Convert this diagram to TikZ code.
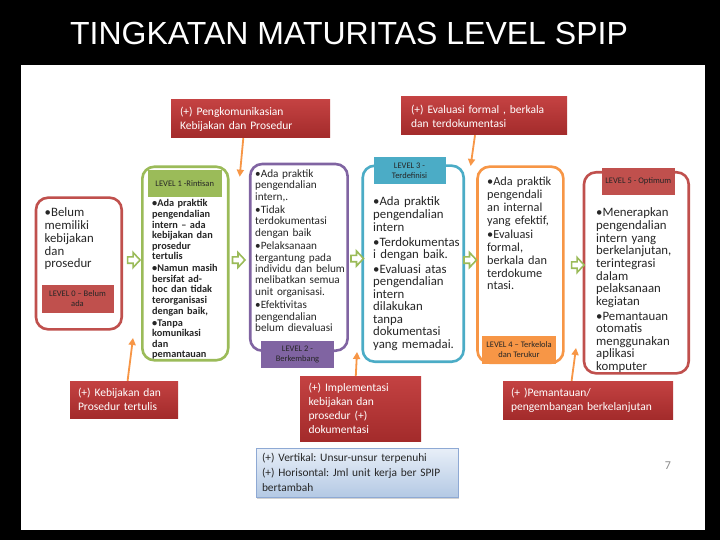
\documentclass[tikz,border=0pt]{standalone}
\usepackage{fontspec}
\setmainfont{Carlito}
\newfontfamily\arialf{Liberation Sans}
\usetikzlibrary{arrows.meta,shadows}
\definecolor{lvred}{HTML}{C0504D}
\definecolor{lvgreen}{HTML}{9BBB59}
\definecolor{lvpurple}{HTML}{8064A2}
\definecolor{lvteal}{HTML}{4BACC6}
\definecolor{lvorange}{HTML}{F79646}
\definecolor{calltop}{HTML}{C44242}
\definecolor{callbot}{HTML}{A32B2B}
\definecolor{txtdark}{HTML}{262626}
\definecolor{legtop}{HTML}{E8EFF8}
\definecolor{legbot}{HTML}{B4C9E4}
\definecolor{legline}{HTML}{8EA9D4}
\definecolor{pggray}{HTML}{8A8A8A}
\frenchspacing
\newcommand\bitem[1]{\setbox0\hbox{•}\hangindent=\wd0 \hangafter=1 \noindent\copy0 #1\par}
\newcommand\garr[2]{\draw[garrow] (#1,#2-3.2) -- (#1+5.5,#2-3.2) -- (#1+5.5,#2-7.5) -- (#1+12.5,#2) -- (#1+5.5,#2+7.5) -- (#1+5.5,#2+3.2) -- (#1,#2+3.2) -- cycle;}
\tikzset{
 lvframe/.style={draw=#1, line width=2.6pt, fill=white, rounded corners=12pt, inner sep=0pt},
 lvlabel/.style={fill=#1, inner sep=0pt, align=center, text=txtdark, font=\fontsize{8.5}{10}\selectfont\frenchspacing},
 coltext/.style={anchor=base west, text width=110pt, align=left, inner sep=0pt, text=txtdark, font=#1},
 callout/.style={top color=calltop, bottom color=callbot, text=white, align=left, inner ysep=0pt, font=\fontsize{11.5}{14}\selectfont\frenchspacing},
 garrow/.style={draw=lvgreen, fill=white, line width=1.6pt, line join=miter},
 oarrow/.style={draw=lvorange, line width=1.8pt, -{Triangle[length=7pt,width=7pt]}},
 legendbox/.style={top color=legtop, bottom color=legbot, draw=legline, line width=0.6pt, text=txtdark, align=left, inner ysep=0pt, font=\fontsize{11.4}{14.7}\selectfont\frenchspacing, drop shadow={opacity=0.35, shadow xshift=1pt, shadow yshift=-2pt}},
}
\begin{document}
\begin{tikzpicture}[x=1pt,y=-1pt]
\useasboundingbox (0,0) rectangle (720,540);
\fill[black] (0,0) rectangle (720,540);
\fill[white] (21,65) rectangle (705,530);
\node[font=\arialf\fontsize{32}{32}\selectfont, text=white, inner sep=0pt] (title) at (349,33) {TINGKATAN MATURITAS LEVEL SPIP};

% level frames
\node[lvframe=lvred, minimum width=85.7, minimum height=131.6] (f0) at (78.85,263.5) {};
\node[lvframe=lvgreen, minimum width=85.9, minimum height=193.5] (f1) at (185.25,263.5) {};
\node[lvframe=lvpurple, minimum width=97.4, minimum height=186.7] (f2) at (298.9,257.35) {};
\node[lvframe=lvteal, minimum width=101, minimum height=196] (f3) at (413.2,263.7) {};
\node[lvframe=lvorange, minimum width=85.9, minimum height=196] (f4) at (520.45,264.7) {};
\node[lvframe=lvred, minimum width=104.7, minimum height=201] (f5) at (636.35,272.8) {};

% labels
\node[lvlabel=lvred, minimum width=72, minimum height=28] (l0) at (77.5,299) {LEVEL 0 – Belum\\ada};
\node[lvlabel=lvgreen, minimum width=73.5, minimum height=26.5] (l1) at (184.75,183.75) {LEVEL 1 -Rintisan};
\node[lvlabel=lvpurple, minimum width=73, minimum height=26.5] (l2) at (297.5,354.25) {LEVEL 2 -\\Berkembang};
\node[lvlabel=lvteal, minimum width=72, minimum height=27] (l3) at (409.5,170.8) {LEVEL 3 -\\Terdefinisi};
\node[lvlabel=lvorange, minimum width=74, minimum height=27.5] (l4) at (519,349.75) {LEVEL 4 – Terkelola\\dan Terukur};
\node[lvlabel=lvred, minimum width=73.5, minimum height=26.7] (l5) at (638.25,181.6) {LEVEL 5 - Optimum};

% column texts
\node[coltext={\fontsize{12.8}{12.7}\selectfont}] (t0) at (44.5,217) {\bitem{Belum\\memiliki\\kebijakan\\dan\\prosedur}};
\node[coltext={\fontsize{10.3}{10.55}\selectfont\bfseries}] (t1) at (152,207) {\setlength\parskip{1.6pt}%
\bitem{Ada praktik\\pengendalian\\intern – ada\\kebijakan dan\\prosedur\\tertulis}%
\bitem{Namun masih\\bersifat ad-\\hoc dan tidak\\terorganisasi\\dengan baik,}%
\bitem{Tanpa\\komunikasi\\dan\\pemantauan}};
\node[coltext={\fontsize{11.2}{11.4}\selectfont}] (t2) at (255,177.4) {\setlength\parskip{2pt}%
\bitem{Ada praktik\\pengendalian\\intern,.}%
\bitem{Tidak\\terdokumentasi\\dengan baik}%
\bitem{Pelaksanaan\\tergantung pada\\individu dan belum\\melibatkan semua\\unit organisasi.}%
\bitem{Efektivitas\\pengendalian\\belum dievaluasi}};
\node[coltext={\fontsize{12.8}{12.5}\selectfont}] (t3) at (373,206) {\setlength\parskip{2.5pt}%
\bitem{Ada praktik\\pengendalian\\intern}%
\bitem{Terdokumentas\\i dengan baik.}%
\bitem{Evaluasi atas\\pengendalian\\intern\\dilakukan\\tanpa\\dokumentasi\\yang memadai.}};
\node[coltext={\fontsize{12.3}{12.8}\selectfont}] (t4) at (487,186) {\setlength\parskip{1.5pt}%
\bitem{Ada praktik\\pengendali\\an internal\\yang efektif,}%
\bitem{Evaluasi\\formal,\\berkala dan\\terdokume\\ntasi.}};
\node[coltext={\fontsize{12.8}{12.6}\selectfont}] (t5) at (596,217) {\setlength\parskip{2.4pt}%
\bitem{Menerapkan\\pengendalian\\intern yang\\berkelanjutan,\\terintegrasi\\dalam\\pelaksanaan\\kegiatan}%
\bitem{Pemantauan\\otomatis\\menggunakan\\aplikasi\\komputer}};

% green block arrows between levels
\garr{127.6}{260}
\garr{232.5}{260}
\garr{351}{258.5}
\garr{464}{260}
\garr{571.6}{265}

% callouts
\node[callout, text width=141, inner xsep=9, minimum height=38] (c1) at (250.5,119) {(+) Pengkomunikasian\\Kebijakan dan Prosedur};
\node[callout, text width=146, inner xsep=10, minimum height=38] (c2) at (484,116) {(+) Evaluasi formal , berkala\\dan terdokumentasi};
\node[callout, text width=92, inner xsep=8, minimum height=37] (c3) at (124,399.5) {(+) Kebijakan dan\\Prosedur tertulis};
\node[callout, text width=104, inner xsep=8.5, minimum height=65] (c4) at (360.5,408.5) {(+) Implementasi\\kebijakan dan\\prosedur (+)\\dokumentasi};
\node[callout, text width=154, inner xsep=8, minimum height=38] (c5) at (588,400) {(+ )Pemantauan/\\pengembangan berkelanjutan};

% orange pointer arrows
\coordinate (p1) at (239.7,176.7);
\coordinate (p2) at (470.6,166);
\coordinate (p3) at (133,338);
\coordinate (p4) at (357,352);
\coordinate (p5) at (576,348);
\draw[oarrow] ([xshift=-7.2pt]c1.south) -- (p1);
\draw[oarrow] ([xshift=-9pt]c2.south) -- (p2);
\draw[oarrow] ([xshift=3.6pt]c3.north) -- (p3);
\draw[oarrow] ([xshift=-4.7pt]c4.north) -- (p4);
\draw[oarrow] ([xshift=-16.4pt]c5.north) -- (p5);

% legend
\node[legendbox, text width=190, inner xsep=6, minimum height=49] (leg) at (357,472.5) {(+) Vertikal: Unsur-unsur terpenuhi\\(+) Horisontal: Jml unit kerja ber SPIP\\bertambah};

\node[text=pggray, font=\fontsize{12}{12}\selectfont, inner sep=0pt] (pg) at (668,466) {7};
\end{tikzpicture}
\end{document}
